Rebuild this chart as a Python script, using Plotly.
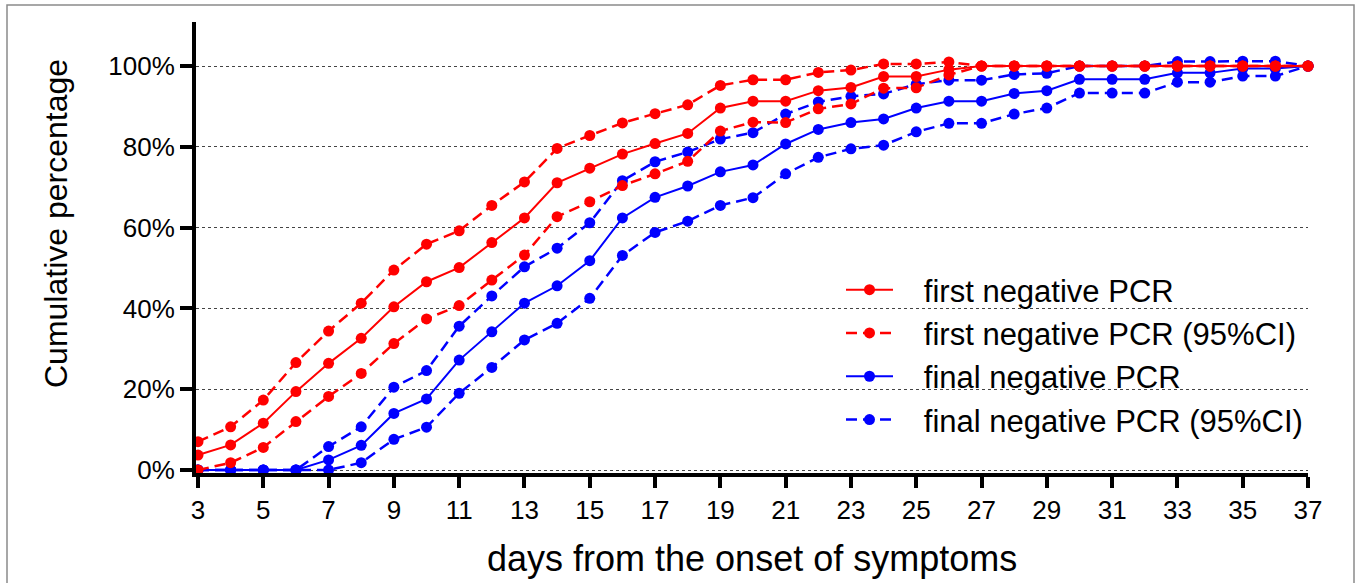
import plotly.graph_objects as go

days = list(range(3, 38))

first_neg = [3.7, 6.2, 11.6, 19.4, 26.4, 32.6, 40.4, 46.6, 50.1, 56.3, 62.4, 71.1, 74.7, 78.2,
             80.8, 83.3, 89.6, 91.3, 91.3, 93.9, 94.7, 97.4, 97.4, 99.1,
             100, 100, 100, 100, 100, 100, 100, 100, 100, 100, 100]
first_upper = [7.0, 10.7, 17.3, 26.6, 34.4, 41.3, 49.5, 55.9, 59.2, 65.5, 71.3, 79.6, 82.8, 85.9,
               88.2, 90.4, 95.2, 96.6, 96.6, 98.4, 99.0, 100.5, 100.5, 101.0,
               100, 100, 100, 100, 100, 100, 100, 100, 100, 100, 100]
first_lower = [0, 1.8, 5.6, 12.0, 18.2, 23.9, 31.3, 37.4, 40.7, 47.0, 53.2, 62.7, 66.4, 70.4,
               73.3, 76.4, 83.9, 86.1, 86.0, 89.4, 90.6, 94.5, 94.6, 97.8,
               100, 100, 100, 100, 100, 100, 100, 100, 100, 100, 100]
final_neg = [0, 0, 0, 0, 2.5, 6.1, 14.0, 17.6, 27.2, 34.2, 41.3, 45.6, 51.8, 62.4, 67.5, 70.3,
             73.8, 75.5, 80.7, 84.3, 86.0, 86.9, 89.6, 91.3, 91.3, 93.2, 93.9, 96.7, 96.7, 96.7,
             98.3, 98.3, 99.4, 99.4, 100]
final_upper = [0, 0, 0, 0, 5.8, 10.7, 20.5, 24.6, 35.6, 43.1, 50.3, 54.9, 61.2, 71.6, 76.3, 78.7,
               81.9, 83.5, 88.1, 91.1, 92.5, 93.1, 95.5, 96.5, 96.5, 97.9, 98.2, 100, 100, 100,
               101.1, 101.1, 101.2, 101.2, 100]
final_lower = [0, 0, 0, 0, 0, 1.8, 7.6, 10.6, 19.0, 25.4, 32.2, 36.3, 42.5, 53.1, 58.8, 61.6,
               65.5, 67.4, 73.3, 77.4, 79.5, 80.4, 83.7, 85.8, 85.8, 88.1, 89.6, 93.3, 93.3, 93.3,
               96.0, 96.0, 97.5, 97.5, 100]

series_names = ["first negative PCR", "first negative PCR (95%CI)",
                "final negative PCR", "final negative PCR (95%CI)"]

y_ticks = [0, 20, 40, 60, 80, 100]
y_ticktext = ["0%", "20%", "40%", "60%", "80%", "100%"]
x_ticks = list(range(3, 38, 2))

RED = "#FF0000"
BLUE = "#0000FF"
FONT = "Arial, Liberation Sans, sans-serif"
DASH = "11px,6px"
PAD = "\u00a0\u00a0\u00a0"

fig = go.Figure()

def add(y, name, color, dash, group, show, width, rank):
    fig.add_trace(go.Scatter(
        x=days, y=y, name=PAD + name, mode="lines+markers",
        line=dict(color=color, width=width, dash=dash),
        marker=dict(color=color, size=11),
        legendgroup=group, showlegend=show, legendrank=rank, cliponaxis=False,
    ))

# blue first (drawn underneath), red on top
add(final_upper, series_names[3], BLUE, DASH, "g4", True, 2.5, 4)
add(final_lower, series_names[3], BLUE, DASH, "g4", False, 2.5, 4)
add(final_neg, series_names[2], BLUE, "solid", "g3", True, 2, 3)
add(first_upper, series_names[1], RED, DASH, "g2", True, 2.5, 2)
add(first_lower, series_names[1], RED, DASH, "g2", False, 2.5, 2)
add(first_neg, series_names[0], RED, "solid", "g1", True, 2, 1)

L, R, T, B = 196, 52, 22, 110
W, H = 1360, 583
pw = W - L - R
ph = H - T - B
px_per_day = 32.76
x0 = 3 - 2 / px_per_day
px_per_pct = 4.04
y_bottom = -(473 - 470) / px_per_pct
y_top = y_bottom + ph / px_per_pct

def px(xp):
    return (xp - L) / pw

def py(yp):
    return (H - B - yp) / ph

fig.update_layout(
    width=W, height=H,
    margin=dict(l=L, r=R, t=T, b=B),
    paper_bgcolor="white", plot_bgcolor="white",
    font=dict(family=FONT, color="black"),
    showlegend=True,
    legend=dict(
        x=px(841), y=py(263), xanchor="left", yanchor="top",
        font=dict(size=31, family=FONT, color="black"),
        traceorder="normal",
        itemwidth=47, bgcolor="rgba(0,0,0,0)", borderwidth=0,
    ),
    xaxis=dict(
        range=[x0, 37], tickvals=x_ticks, showgrid=False, zeroline=False,
        showline=True, linewidth=4, linecolor="black",
        ticks="outside", ticklen=11, tickwidth=4, tickcolor="black",
        tickfont=dict(size=26, family=FONT, color="black"),
    ),
    yaxis=dict(
        range=[y_bottom, y_top], tickvals=y_ticks, ticktext=y_ticktext,
        showgrid=True, gridcolor="#444", gridwidth=1, griddash="dot",
        zeroline=False, showline=True, linewidth=4, linecolor="black",
        ticks="outside", ticklen=12, tickwidth=4, tickcolor="black",
        tickfont=dict(size=26, family=FONT, color="black"),
    ),
    annotations=[
        dict(text="Cumulative percentage", textangle=-90, xref="paper", yref="paper",
             x=px(56), y=py(224), xanchor="center", yanchor="middle", showarrow=False,
             font=dict(size=32, family=FONT, color="black")),
        dict(text="days from the onset of symptoms", xref="paper", yref="paper",
             x=0.5, y=py(558), xanchor="center", yanchor="middle", showarrow=False,
             font=dict(size=36, family=FONT, color="black")),
    ],
    shapes=[
        dict(type="rect", xref="paper", yref="paper",
             x0=px(7), x1=px(1354), y0=py(600), y1=py(5),
             line=dict(color="#8a8a8a", width=1.5), fillcolor="rgba(0,0,0,0)", layer="below"),
    ],
)

fig.write_html("out.html")
